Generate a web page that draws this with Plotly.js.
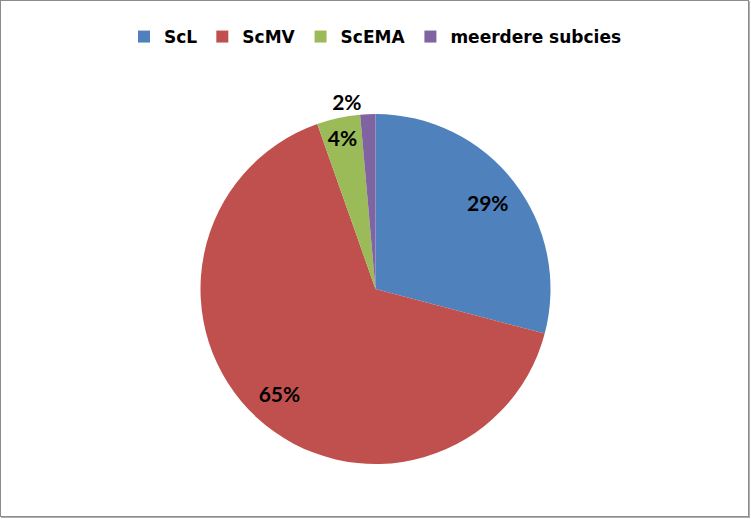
<!DOCTYPE html>
<html>
<head>
<meta charset="utf-8">
<script src="https://cdn.plot.ly/plotly-3.0.1.min.js"></script>
<style>
html,body{margin:0;padding:0;background:#fff;}
#frame{position:absolute;left:0;top:0;width:747px;height:515px;border:1px solid #8c8c8c;box-shadow:1px 1px 0 #b0b0b0;}
#chart{position:absolute;left:0;top:0;width:751px;height:519px;}
</style>
</head>
<body>
<div id="frame"></div>
<div id="chart"></div>
<script>
const categories = ['ScL', 'ScMV', 'ScEMA', 'meerdere subcies'];
const values = [29.1, 65.5, 4.0, 1.4];
const pctLabels = ['29%', '65%', '4%', '2%'];
const colors = ['#4F81BD', '#C0504D', '#9BBB59', '#8064A2'];

const labelFont = {family: 'Lato, Carlito, sans-serif', size: 21, color: '#000', weight: 'bold'};

const data = [
  {
    type: 'pie',
    labels: categories,
    values: values,
    sort: false,
    direction: 'clockwise',
    rotation: 0,
    marker: {colors: colors, line: {width: 0}},
    textinfo: 'none',
    hoverinfo: 'none',
    automargin: false
  },
  {
    type: 'pie',
    labels: categories,
    values: values,
    text: pctLabels,
    sort: false,
    direction: 'clockwise',
    rotation: 0,
    hole: 0.62,
    showlegend: false,
    marker: {colors: ['rgba(0,0,0,0)', 'rgba(0,0,0,0)', 'rgba(0,0,0,0)', 'rgba(0,0,0,0)'], line: {width: 0}},
    texttemplate: '%{text}',
    textposition: ['inside', 'inside', 'inside', 'outside'],
    insidetextorientation: 'horizontal',
    textfont: labelFont,
    hoverinfo: 'none',
    automargin: false
  }
];

const layout = {
  width: 751,
  height: 519,
  margin: {l: 0, r: 0, t: 114, b: 55},
  paper_bgcolor: 'rgba(0,0,0,0)',
  showlegend: true,
  legend: {
    orientation: 'h',
    x: 0.5, xanchor: 'center',
    y: 1.22, yanchor: 'middle',
    font: {family: '"DejaVu Sans", sans-serif', size: 17, color: '#000', weight: 'bold'},
    itemwidth: 30,
    traceorder: 'normal'
  }
};

Plotly.newPlot('chart', data, layout, {displayModeBar: false, staticPlot: true});
</script>
</body>
</html>
